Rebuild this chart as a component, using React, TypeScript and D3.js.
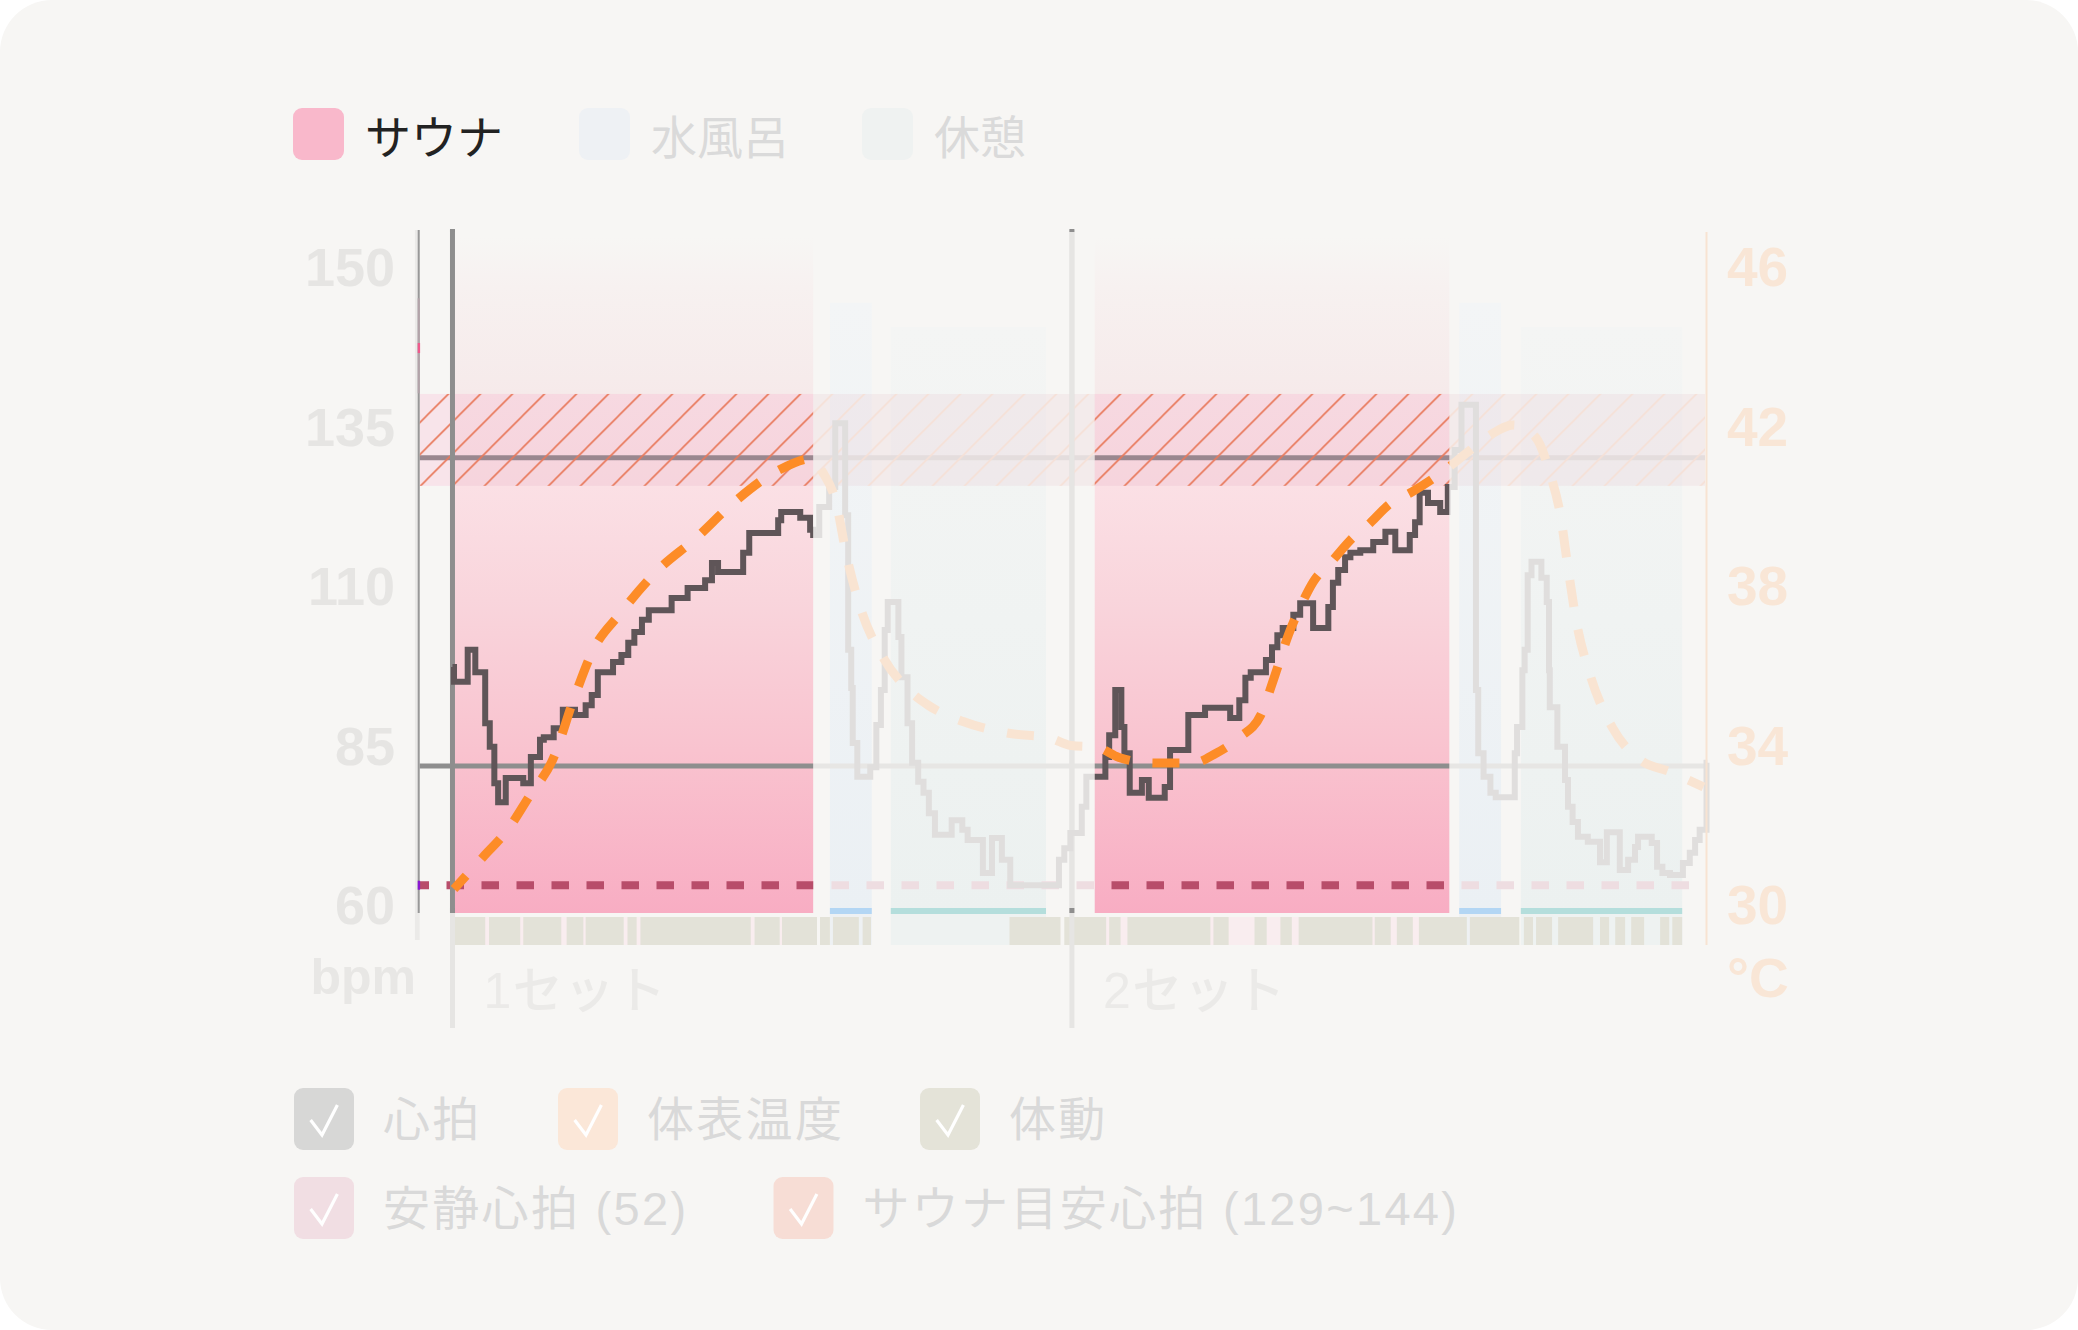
import React from 'react';
import * as d3 from 'd3';

type Pt = [number, number];

// ---------------- data (time unit = 15 s sample index) ----------------
const timeDomain: [number, number] = [-4.4, 164.6];

const phases = [
  { type: 'sauna', start: 0, end: 47.4, top: 164.7 },
  { type: 'water', start: 49.6, end: 55.1, top: 154.4 },
  { type: 'rest', start: 57.6, end: 78.0, top: 150.6 },
  { type: 'sauna', start: 84.4, end: 131.0, top: 164.7 },
  { type: 'water', start: 132.3, end: 137.8, top: 154.4 },
  { type: 'rest', start: 140.4, end: 161.6, top: 150.6 },
];

const setMarks = [
  { label: '1セット', t: 0 },
  { label: '2セット', t: 81.4 },
];

const highlightRanges: [number, number][] = [
  [-4.4, 47.4],
  [84.4, 131.0],
];

const heartRate: Pt[] = [
  [0, 97.3], [0.2, 95.0], [2.0, 100.0], [3.0, 96.5], [4.3, 88.5], [4.9, 84.8], [5.5, 79.1], [6.0, 76.1],
  [7.0, 79.9], [9.3, 79.1], [10.3, 83.2], [11.5, 85.9], [12.0, 86.3], [13.3, 87.7], [14.5, 90.6], [16.1, 89.8],
  [17.5, 91.3], [18.3, 92.9], [19.1, 96.5], [21.1, 98.1], [22.2, 99.2], [23.1, 101.1], [23.9, 102.8], [24.9, 104.7],
  [25.8, 106.2], [28.8, 108.1], [30.9, 109.7], [33.2, 110.9], [34.1, 113.6], [34.9, 112.2], [38.2, 115.2], [39.0, 118.3],
  [42.8, 120.3], [43.2, 121.6], [45.7, 120.7], [47.0, 118.8],
  [47.4, 118.0], [48.2, 122.4], [49.5, 125.5], [50.3, 135.5], [51.6, 121.1], [52.0, 100.0], [52.4, 94.0], [52.6, 85.4],
  [53.2, 80.1], [54.9, 81.6], [55.7, 88.2], [56.3, 93.7], [56.8, 103.1], [57.2, 107.5], [58.6, 102.0], [59.0, 95.7],
  [59.8, 88.5], [60.4, 82.3], [61.2, 79.3], [61.9, 77.6], [62.6, 74.4], [63.4, 71.0], [65.6, 73.3], [67.0, 71.8],
  [67.7, 70.2], [69.7, 65.0], [70.9, 70.5], [72.2, 67.1], [73.3, 63.1], [79.7, 67.1], [80.4, 68.9], [81.2, 71.3],
  [82.7, 75.4], [83.3, 80.1],
  [85.8, 83.2], [86.3, 86.6], [87.1, 93.7], [87.9, 87.9], [88.3, 83.8], [89.0, 77.6], [90.6, 79.6], [91.5, 76.8],
  [93.6, 78.5], [94.3, 84.3], [96.7, 89.8], [98.9, 90.9], [102.2, 89.3], [103.4, 92.1], [104.2, 95.6], [104.9, 96.5],
  [106.9, 98.4], [107.7, 100.4], [108.4, 102.3], [109.1, 103.4], [110.5, 105.5], [111.4, 107.3], [113.1, 103.4],
  [115.1, 106.7], [115.7, 110.5], [116.4, 112.5], [117.3, 114.5], [118.0, 115.2], [119.3, 115.6], [121.0, 116.9],
  [122.6, 118.5], [123.9, 115.6], [125.8, 118.0], [126.5, 120.0], [127.1, 124.6], [128.2, 123.0], [129.8, 121.6],
  [130.8, 125.5],
  [131.7, 131.3], [132.6, 138.4], [134.5, 93.7], [134.8, 83.8], [135.5, 80.1], [136.4, 77.6], [137.1, 76.9],
  [139.6, 83.8], [139.9, 87.9], [140.6, 96.8], [140.9, 100.0], [141.3, 111.7], [141.8, 113.8], [143.1, 111.3],
  [143.8, 107.5], [144.1, 96.8], [144.2, 91.0], [145.2, 84.8], [146.2, 79.6], [146.6, 75.4], [147.2, 73.0],
  [147.9, 70.7], [149.2, 69.9], [150.8, 66.7], [151.7, 71.4], [153.4, 65.5], [154.5, 67.1], [155.4, 69.1],
  [155.8, 70.7], [157.6, 69.7], [158.3, 66.0], [159.0, 65.0], [160.0, 64.7], [161.7, 66.6], [162.6, 68.2],
  [163.3, 70.2], [163.9, 71.8], [164.8, 82.3], [164.9, 82.3],
];

const skinTemp: Pt[] = [
  [0.2, 30.4], [4.0, 31.2], [7.3, 31.9], [10.0, 32.7], [13.3, 33.7], [16.0, 35.2], [18.5, 36.4], [22.0, 37.3],
  [27.0, 38.4], [32.0, 39.2], [37.0, 40.1], [42.8, 40.9], [47.4, 41.2], [48.5, 40.9], [50.4, 40.1], [51.8, 38.75],
  [53.7, 37.4], [56.6, 36.2], [59.9, 35.4], [62.6, 35.0], [67.1, 34.6], [73.3, 34.3], [78.3, 34.2], [81.3, 34.0],
  [84.6, 33.96], [87.6, 33.7], [92.3, 33.56], [97.3, 33.56], [100.3, 33.8], [103.4, 34.2], [106.2, 34.76],
  [108.1, 35.77], [109.9, 36.8], [111.4, 37.47], [113.1, 38.1], [115.7, 38.65], [118.0, 39.15], [120.6, 39.58],
  [123.0, 40.03], [126.1, 40.36], [128.9, 40.7], [130.8, 40.96], [133.7, 41.4], [136.4, 41.79], [139.4, 42.04],
  [142.3, 41.74], [144.3, 40.78], [145.6, 39.78], [146.6, 38.45], [147.7, 37.1], [149.5, 35.77], [152.4, 34.46],
  [156.1, 33.64], [160.0, 33.34], [164.4, 32.96],
];

const movement: [number, number][] = [
  [0.2, 4.3], [4.8, 8.9], [9.3, 14.3], [15.0, 17.2], [17.5, 22.5], [23.0, 24.2], [24.7, 39.2], [39.7, 43.0],
  [43.3, 47.9], [48.3, 49.6], [50.0, 53.4], [53.9, 55.0], [73.2, 79.9], [80.4, 85.9], [86.3, 87.8], [88.7, 99.6],
  [100.0, 102.0], [105.4, 107.0], [108.8, 110.3], [111.2, 120.9], [121.2, 123.3], [124.1, 126.2], [127.0, 133.3],
  [133.7, 140.2], [140.8, 142.0], [142.4, 144.5], [145.3, 149.9], [150.8, 152.0], [152.8, 154.1], [154.9, 156.6],
  [158.7, 159.9], [160.3, 161.6],
];

const restingHR = 63.1;
const guideHR = [130.1, 81.8];
const targetBand: [number, number] = [125.7, 140.1];
const bpmTickLabels = ['60', '85', '110', '135', '150'];
const tempTicks = [30, 34, 38, 42, 46];
const axisMarkHR = 147.3;
const axisTintHR: [number, number] = [140.2, 155.1];

const phaseLegend = [
  { key: 'sauna', label: 'サウナ', active: true },
  { key: 'water', label: '水風呂', active: false },
  { key: 'rest', label: '休憩', active: false },
];

const seriesLegend = [
  { key: 'hr', label: '心拍' },
  { key: 'temp', label: '体表温度' },
  { key: 'move', label: '体動' },
  { key: 'rest', label: '安静心拍 (52)' },
  { key: 'target', label: 'サウナ目安心拍 (129~144)' },
];

// ---------------- layout & style ----------------
const W = 2078;
const H = 1330;
const L = {
  left: 419, right: 1705, top: 230, bottom: 913,
  stripTop: 917, stripBottom: 945, setBottom: 1028,
  yLow: 905, yHigh: 267,
};
const phaseLegendBoxX = [293, 579, 862];
const seriesLegendPos: [number, number][] = [[294, 1088], [558, 1088], [920, 1088], [294, 1177], [773.5, 1177]];

const phaseColors: Record<string, { legend: string; strip: string; bar: string | null }> = {
  sauna: { legend: '#f9b8cb', strip: '#f9edef', bar: null },
  water: { legend: '#eef1f4', strip: '#eef1f3', bar: '#b3d6f4' },
  rest: { legend: '#eff2f1', strip: '#eef2f1', bar: '#b4dedc' },
};
const seriesColors: Record<string, string> = {
  hr: '#d7d7d6', temp: '#fbe7d8', move: '#e4e3d8', rest: '#f1dee3', target: '#f7ddd5',
};
const LAYER = {
  hl: { guide: '#8e8e8e', band: 'rgba(255,90,159,0.115)', hatch: 'url(#hatchHl)', rest: '#b84d6a', hr: '#5f5558', temp: '#fd8c27', set: '#8e8e8e', clip: 'url(#clipHl)' },
  fd: { guide: '#e7e6e4', band: 'rgba(200,120,140,0.08)', hatch: 'url(#hatchFd)', rest: '#eedde1', hr: '#e0dedd', temp: '#f9e4d2', set: '#e6e5e3', clip: 'url(#clipFd)' },
};
const CJK = "'Noto Sans CJK JP', 'Noto Sans', sans-serif";
const MIXED = "'Liberation Sans', 'Noto Sans CJK JP', sans-serif";
const NUM = "'Liberation Sans', Arial, sans-serif";

export default function App() {
  const x = d3.scaleLinear().domain(timeDomain).range([L.left, L.right]);
  const yB = d3.scaleLinear().domain([60, 160]).range([L.yLow, L.yHigh]);
  const yT = d3.scaleLinear().domain([30, 46]).range([L.yLow, L.yHigh]);
  const tickPos = d3.scalePoint<string>().domain(bpmTickLabels).range([L.yLow, L.yHigh]);

  const hrPath = d3.line<Pt>().x(d => x(d[0])).y(d => yB(d[1])).curve(d3.curveStepAfter)(heartRate) || '';
  const tempPath = d3.line<Pt>().x(d => x(d[0])).y(d => yT(d[1])).curve(d3.curveMonotoneX)(skinTemp) || '';
  const restPath = d3.line<Pt>().x(d => x(d[0])).y(d => yB(d[1]))([[timeDomain[0], restingHR], [timeDomain[1], restingHR]]) || '';

  const faded: [number, number][] = [];
  let cur = timeDomain[0];
  highlightRanges.forEach(([a, b]) => { if (a > cur) faded.push([cur, a]); cur = b; });
  faded.push([cur, timeDomain[1] + 1]);

  const saunaTopY = yB(phases[0].top);
  const split = (yB(targetBand[0]) - saunaTopY) / (L.bottom - saunaTopY);
  const at = (py: number) => (py - saunaTopY) / (L.bottom - saunaTopY);

  const bandY = yB(targetBand[1]);
  const bandH = yB(targetBand[0]) - yB(targetBand[1]);

  const layer = (m: 'hl' | 'fd') => {
    const c = LAYER[m];
    return (
      <g clipPath={c.clip}>
        {guideHR.map((v, i) => (
          <line key={i} x1={L.left} x2={L.right} y1={yB(v)} y2={yB(v)} stroke={c.guide} strokeWidth={5} />
        ))}
        <rect x={L.left} y={bandY} width={L.right - L.left} height={bandH} fill={c.band} />
        <rect x={L.left} y={bandY} width={L.right - L.left} height={bandH} fill={c.hatch} />
        <path d={restPath} fill="none" stroke={c.rest} strokeWidth={8} strokeDasharray="17.5 17.5" strokeDashoffset={7.5} />
        {setMarks.map((s, i) => (
          <line key={i} x1={x(s.t)} x2={x(s.t)} y1={L.top} y2={L.bottom} stroke={c.set} strokeWidth={5} />
        ))}
        <path d={hrPath} fill="none" stroke={c.hr} strokeWidth={6} strokeLinejoin="miter" />
        <path d={tempPath} fill="none" stroke={c.temp} strokeWidth={9} strokeDasharray="27 23" strokeDashoffset={9} />
      </g>
    );
  };

  return (
    <svg width={W} height={H} viewBox={`0 0 ${W} ${H}`} style={{ position: 'absolute', left: 0, top: 0, background: '#ffffff' }}>
      <defs>
        <linearGradient id="grad-sauna" x1="0" y1="0" x2="0" y2="1">
          <stop offset="0" stopColor="#f7f6f4" />
          <stop offset={at(287)} stopColor="#f7f1f0" />
          <stop offset={split} stopColor="#f5e4e5" />
          <stop offset={split + 0.001} stopColor="#fbe0e5" />
          <stop offset={at(600)} stopColor="#f9d5dc" />
          <stop offset={at(750)} stopColor="#f9c3cf" />
          <stop offset="1" stopColor="#f8adc3" />
        </linearGradient>
        <linearGradient id="grad-water" x1="0" y1="0" x2="0" y2="1">
          <stop offset="0" stopColor="#f3f5f6" />
          <stop offset="1" stopColor="#ebf0f4" />
        </linearGradient>
        <linearGradient id="grad-rest" x1="0" y1="0" x2="0" y2="1">
          <stop offset="0" stopColor="#f4f5f4" />
          <stop offset="1" stopColor="#ecf1f0" />
        </linearGradient>
        <pattern id="hatchHl" patternUnits="userSpaceOnUse" width={32} height={32} x={10.4} y={0}>
          <path d="M-8,8 L8,-8 M0,32 L32,0 M24,40 L40,24" stroke="#e8785a" strokeWidth={1.6} />
        </pattern>
        <pattern id="hatchFd" patternUnits="userSpaceOnUse" width={32} height={32} x={10.4} y={0}>
          <path d="M-8,8 L8,-8 M0,32 L32,0 M24,40 L40,24" stroke="#f6e0d6" strokeWidth={1.6} />
        </pattern>
        <clipPath id="clipHl">
          {highlightRanges.map(([a, b], i) => (
            <rect key={i} x={x(a)} y={0} width={x(b) - x(a)} height={H} />
          ))}
        </clipPath>
        <clipPath id="clipFd">
          {faded.map(([a, b], i) => (
            <rect key={i} x={x(a)} y={0} width={x(b) - x(a)} height={H} />
          ))}
        </clipPath>
      </defs>

      {/* card */}
      <rect x={0} y={0} width={W} height={H} rx={52} fill="#f7f6f4" />

      {/* top legend */}
      {phaseLegend.map((p, i) => (
        <g key={p.key}>
          <rect x={phaseLegendBoxX[i]} y={108} width={51} height={52} rx={9} fill={phaseColors[p.key].legend} />
          <text x={phaseLegendBoxX[i] + 72} y={134} dominantBaseline="central" fontFamily={CJK} fontSize={46}
            fill={p.active ? '#222222' : '#dadada'}>{p.label}</text>
        </g>
      ))}

      {/* phase rects */}
      {phases.map((p, i) => {
        const pc = phaseColors[p.type];
        const x0 = x(p.start);
        const w = x(p.end) - x(p.start);
        return (
          <g key={i}>
            <rect x={x0} y={yB(p.top)} width={w} height={L.bottom - yB(p.top)} fill={`url(#grad-${p.type})`} />
            {p.type === 'sauna' ? (
              <rect x={x0} y={L.stripTop} width={w} height={L.stripBottom - L.stripTop} fill={pc.strip} />
            ) : (
              <rect x={x0} y={L.bottom} width={w} height={L.stripBottom - L.bottom} fill={pc.strip} />
            )}
            {pc.bar && <rect x={x0} y={L.bottom - 5} width={w} height={6} fill={pc.bar} />}
          </g>
        );
      })}

      {/* movement */}
      {movement.map(([a, b], i) => (
        <rect key={i} x={x(a)} y={L.stripTop} width={x(b) - x(a)} height={L.stripBottom - L.stripTop} fill="#e3e2d8" />
      ))}

      {/* set lines (faded full length) */}
      {setMarks.map((s, i) => (
        <line key={i} x1={x(s.t)} x2={x(s.t)} y1={L.top} y2={L.setBottom} stroke="#e6e5e3" strokeWidth={5} />
      ))}

      {layer('fd')}
      {layer('hl')}

      {/* set caps */}
      {setMarks.map((s, i) => (
        <g key={i}>
          <rect x={x(s.t) - 2.5} y={L.top - 1} width={5} height={3} fill="#8e8e8e" />
          <rect x={x(s.t) - 2.5} y={L.bottom - 5} width={5} height={5} fill="#8e8e8e" />
        </g>
      ))}

      {/* left axis */}
      <line x1={417.3} x2={417.3} y1={L.top} y2={L.stripBottom - 5} stroke="#ebeae8" strokeWidth={4.7} />
      <line x1={418.7} x2={418.7} y1={L.top} y2={L.bottom} stroke="#989898" strokeWidth={2} />
      <line x1={418.7} x2={418.7} y1={yB(axisTintHR[1])} y2={yB(axisTintHR[0])} stroke="#b3a3a9" strokeWidth={2} />
      <rect x={417.7} y={yB(axisMarkHR) - 5} width={2.4} height={10} fill="#ef5a8c" />
      <rect x={417.7} y={yB(restingHR) - 4.5} width={2.4} height={9} fill="#8a17d1" />

      {/* right axis */}
      <line x1={1706.5} x2={1706.5} y1={232} y2={L.stripBottom} stroke="#f8e3d2" strokeWidth={2} />

      {/* y tick labels */}
      {bpmTickLabels.map(t => (
        <text key={t} x={395} y={tickPos(t)} textAnchor="end" dominantBaseline="central" fontFamily={NUM}
          fontWeight={700} fontSize={54} fill="#e6e5e3">{t}</text>
      ))}
      {tempTicks.map(t => (
        <text key={t} x={1727} y={yT(t)} textAnchor="start" dominantBaseline="central" fontFamily={NUM}
          fontWeight={700} fontSize={55} fill="#f9e6d6">{t}</text>
      ))}
      <text x={416} y={994} textAnchor="end" fontFamily={NUM} fontWeight={700} fontSize={50} fill="#e8e7e5">bpm</text>
      <text x={1727} y={997} textAnchor="start" fontFamily={NUM} fontWeight={700} fontSize={55} fill="#f9e6d6">°C</text>

      {/* set labels */}
      {setMarks.map((s, i) => (
        <text key={i} x={x(s.t) + 31} y={1008} fontFamily={MIXED} fontWeight={500} fontSize={50} fill="#ebeae8"
          letterSpacing={1.5}>{s.label}</text>
      ))}

      {/* bottom legend */}
      {seriesLegend.map((s, i) => {
        const [bx, by] = seriesLegendPos[i];
        return (
          <g key={s.key}>
            <rect x={bx} y={by} width={60} height={62} rx={9} fill={seriesColors[s.key]} />
            <path d={`M${bx + 16.6},${by + 32} L${bx + 28},${by + 47} L${bx + 43.4},${by + 17}`} fill="none"
              stroke="#ffffff" strokeWidth={3.2} />
            <text x={bx + 89} y={by + 31} dominantBaseline="central" fontFamily={MIXED} fontSize={47} fill="#d9d9d9"
              letterSpacing={2.3}>{s.label}</text>
          </g>
        );
      })}
    </svg>
  );
}
